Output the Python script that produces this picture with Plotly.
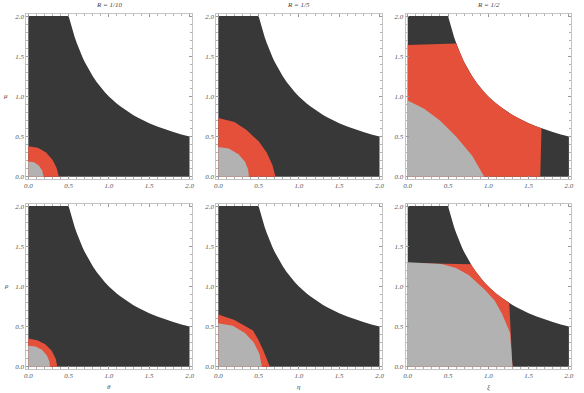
import plotly.graph_objects as go

# ---- data ----
titles = ["R = 1/10", "R = 1/5", "R = 1/2"]
y_labels = ["μ", "ρ"]
x_labels = ["θ", "η", "ξ"]
tick_vals = [0.0, 0.5, 1.0, 1.5, 2.0]
tick_text = ["0.0", "0.5", "1.0", "1.5", "2.0"]

# outer (hyperbolic) edge of the dark region
hyper_x = [0.5, 0.525, 0.55, 0.575, 0.6, 0.625, 0.65, 0.675, 0.7, 0.75, 0.78, 0.8, 0.85, 0.9, 0.95,
           1.0, 1.05, 1.1, 1.15, 1.2, 1.26, 1.3, 1.35, 1.4, 1.5, 1.6, 1.66, 1.7, 1.8, 1.9, 2.0]
hyper_y = [2.0, 1.905, 1.818, 1.739, 1.667, 1.6, 1.538, 1.481, 1.429, 1.333, 1.282, 1.25, 1.176, 1.111, 1.053,
           1.0, 0.952, 0.909, 0.87, 0.833, 0.794, 0.769, 0.741, 0.714, 0.667, 0.625, 0.602, 0.588, 0.556, 0.526, 0.5]

# top row
red1_x = [0.0, 0.0, 0.12, 0.22, 0.30, 0.35, 0.38]
red1_y = [0.0, 0.38, 0.36, 0.30, 0.21, 0.11, 0.0]
gray1_x = [0.0, 0.0, 0.07, 0.13, 0.17, 0.19]
gray1_y = [0.0, 0.19, 0.18, 0.14, 0.08, 0.0]

red2_x = [0.0, 0.0, 0.2, 0.35, 0.5, 0.6, 0.67, 0.71]
red2_y = [0.0, 0.73, 0.68, 0.58, 0.44, 0.30, 0.15, 0.0]
gray2_x = [0.0, 0.0, 0.13, 0.25, 0.33, 0.37, 0.38]
gray2_y = [0.0, 0.37, 0.35, 0.28, 0.19, 0.09, 0.0]

red3_top_x = [0.0, 0.6]
red3_top_y = [1.64, 1.66]
red3_edge_x = [1.66, 1.645]
red3_edge_y = [0.60, 0.0]
gray3_x = [0.0, 0.0, 0.2, 0.4, 0.6, 0.8, 0.95]
gray3_y = [0.0, 0.95, 0.85, 0.70, 0.50, 0.26, 0.0]

# bottom row
red4_x = [0.0, 0.0, 0.11, 0.21, 0.29, 0.34, 0.36]
red4_y = [0.0, 0.35, 0.33, 0.28, 0.20, 0.10, 0.0]
gray4_x = [0.0, 0.0, 0.09, 0.17, 0.23, 0.26, 0.27]
gray4_y = [0.0, 0.26, 0.25, 0.21, 0.14, 0.07, 0.0]

red5_x = [0.0, 0.0, 0.2, 0.43, 0.5, 0.56, 0.64]
red5_y = [0.0, 0.65, 0.58, 0.45, 0.33, 0.20, 0.0]
gray5_x = [0.0, 0.0, 0.18, 0.33, 0.44, 0.51, 0.54]
gray5_y = [0.0, 0.54, 0.51, 0.42, 0.30, 0.16, 0.0]

red6_top_x = [0.0, 0.78]
red6_top_y = [1.29, 1.275]
red6_edge_x = [1.26, 1.30]
red6_edge_y = [0.79, 0.0]
gray6_x = [0.0, 0.0, 0.42, 0.6, 0.76, 0.96, 1.08, 1.17, 1.27, 1.30]
gray6_y = [0.0, 1.30, 1.28, 1.23, 1.14, 0.955, 0.82, 0.66, 0.42, 0.0]

DARK = "#383838"
RED = "#e5503a"
GRAY = "#b2b2b2"

fig = go.Figure()


def poly(xs, ys, color, ax):
    fig.add_trace(go.Scatter(
        x=xs, y=ys, mode="lines", fill="toself", fillcolor=color,
        line=dict(width=0, color=color), hoverinfo="skip", showlegend=False,
        xaxis="x" + ax, yaxis="y" + ax))


def hyper_segment(x0, x1):
    pts = [(x, y) for x, y in zip(hyper_x, hyper_y) if x0 - 1e-9 <= x <= x1 + 1e-9]
    return [p[0] for p in pts], [p[1] for p in pts]


dark_x = [0.0, 0.0] + hyper_x + [2.0]
dark_y = [0.0, 2.0] + hyper_y + [0.0]

hx3, hy3 = hyper_segment(0.6, 1.66)
red3_x = [0.0] + red3_top_x + hx3 + red3_edge_x
red3_y = [0.0] + red3_top_y + hy3 + red3_edge_y
hx6, hy6 = hyper_segment(0.78, 1.26)
red6_x = [0.0] + red6_top_x + hx6 + red6_edge_x
red6_y = [0.0] + red6_top_y + hy6 + red6_edge_y

panel_data = [
    (red1_x, red1_y, gray1_x, gray1_y),
    (red2_x, red2_y, gray2_x, gray2_y),
    (red3_x, red3_y, gray3_x, gray3_y),
    (red4_x, red4_y, gray4_x, gray4_y),
    (red5_x, red5_y, gray5_x, gray5_y),
    (red6_x, red6_y, gray6_x, gray6_y),
]

W, H = 584, 393
zero_px_x = [28.3, 218.3, 407.7]
zero_px_y = [176.7, 366.7]
sx, sy = 80.6, 80.3
pad = 0.025

tick_font = dict(family="Liberation Serif", size=7, color="#555555", style="italic")
layout_axes = {}
for i, (rx, ry, gx, gy) in enumerate(panel_data):
    ax = "" if i == 0 else str(i + 1)
    poly(dark_x, dark_y, DARK, ax)
    poly(rx, ry, RED, ax)
    poly(gx, gy, GRAY, ax)
    r, c = divmod(i, 3)
    x0 = (zero_px_x[c] - pad * sx) / W
    x1 = (zero_px_x[c] + (2 + pad) * sx) / W
    yb = 1 - (zero_px_y[r] + pad * sy) / H
    yt = 1 - (zero_px_y[r] - (2 + pad) * sy) / H
    common = dict(range=[-pad, 2 + pad], showgrid=False, zeroline=False,
                  showline=True, linecolor="#c4c4c4", linewidth=1, mirror="allticks",
                  ticks="inside", ticklen=3, tickcolor="#9a9a9a", tickwidth=0.6,
                  tickvals=tick_vals, ticktext=tick_text, tickfont=tick_font,
                  minor=dict(ticks="inside", ticklen=1.5, tickcolor="#b0b0b0", dtick=0.1, tick0=0),
                  fixedrange=True, automargin=False)
    layout_axes["xaxis" + ax] = dict(domain=[x0, x1], anchor="y" + ax, **common)
    layout_axes["yaxis" + ax] = dict(domain=[yb, yt], anchor="x" + ax, **common)

ann_font = dict(family="Liberation Serif", size=7, color="#444444", style="italic")
annotations = []
for c, t in enumerate(titles):
    annotations.append(dict(text=t, x=(zero_px_x[c] + sx) / W, y=1 - 5 / H, xref="paper", yref="paper",
                            showarrow=False, font=ann_font, xanchor="center", yanchor="middle"))
for c, t in enumerate(x_labels):
    annotations.append(dict(text=t, x=(zero_px_x[c] + sx) / W, y=1 - 387 / H, xref="paper", yref="paper",
                            showarrow=False, font=ann_font, xanchor="center", yanchor="middle"))
for r, t in enumerate(y_labels):
    annotations.append(dict(text=t, x=6 / W, y=1 - (zero_px_y[r] - sy) / H, xref="paper", yref="paper",
                            showarrow=False, font=ann_font, xanchor="center", yanchor="middle"))

fig.update_layout(width=W, height=H, margin=dict(l=0, r=0, t=0, b=0),
                  plot_bgcolor="white", paper_bgcolor="white",
                  annotations=annotations, **layout_axes)

fig.write_html("out.html", config={"displayModeBar": False},
               post_script="document.body.style.margin='0';document.body.style.overflow='hidden';")
